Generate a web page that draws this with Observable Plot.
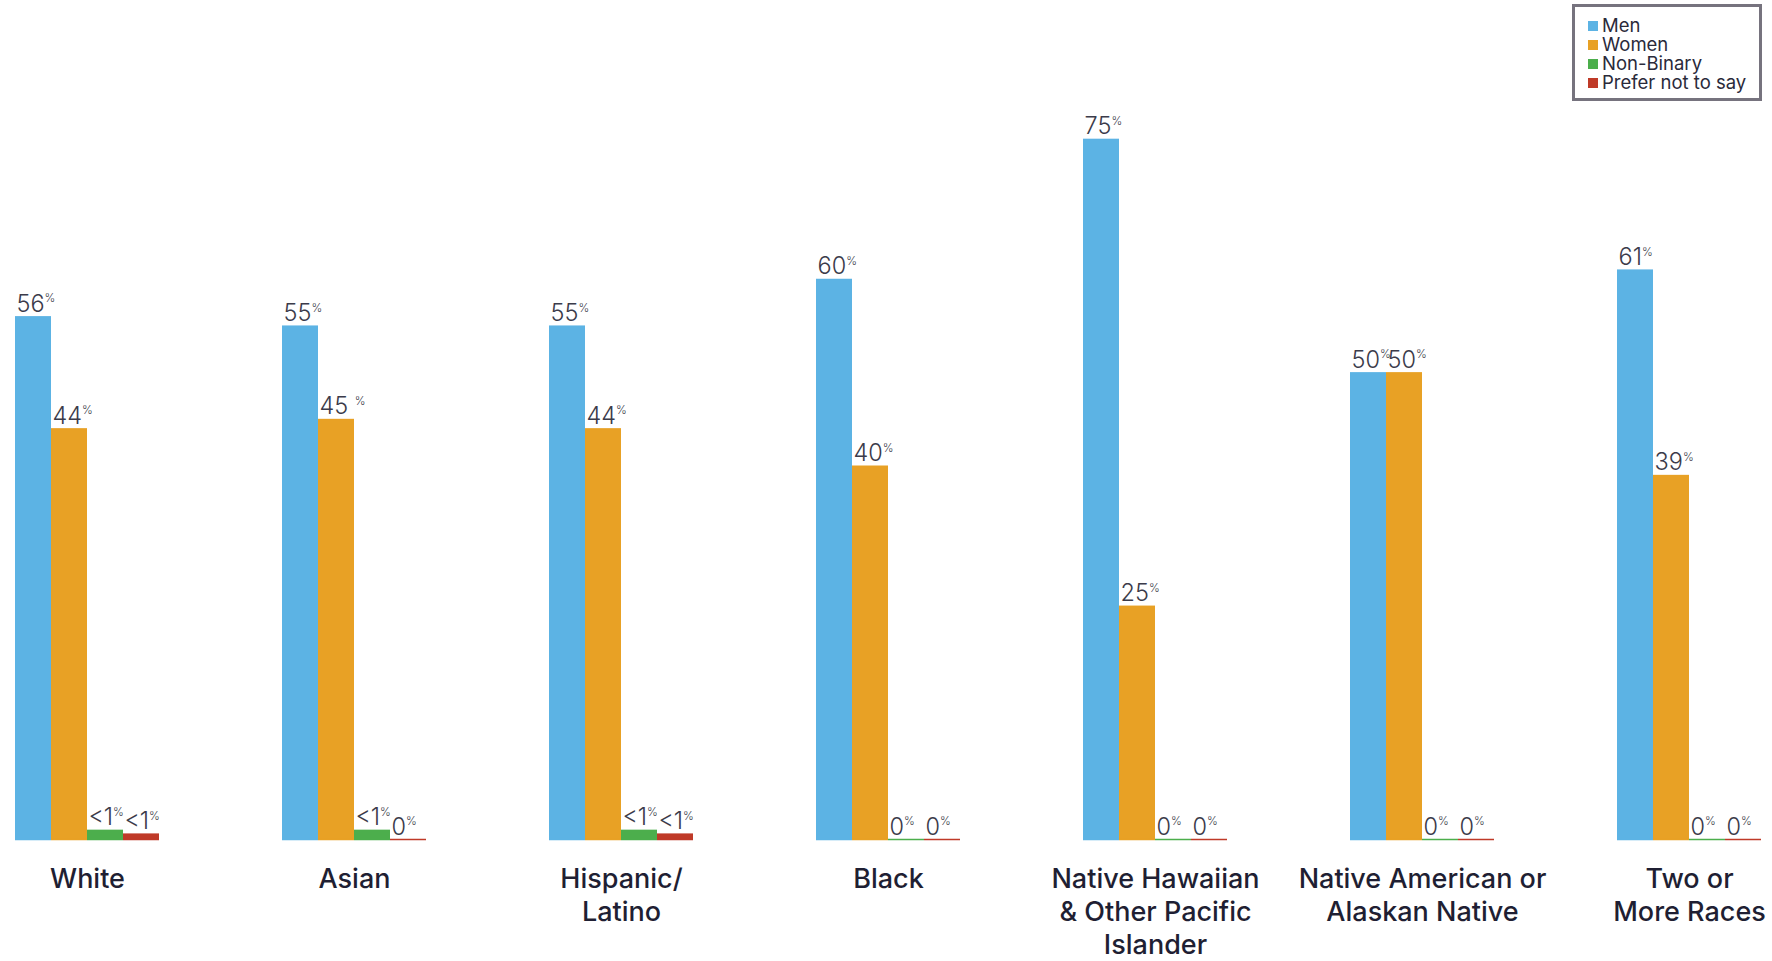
<!DOCTYPE html>
<html><head><meta charset="utf-8">
<script src="https://cdn.jsdelivr.net/npm/d3@7"></script>
<script src="https://cdn.jsdelivr.net/npm/@observablehq/plot@0.6"></script>
<style>
body{margin:0;background:#fff;}
#wrap{position:relative;width:1772px;height:961px;font-family:Inter, sans-serif;}
#legend{position:absolute;left:1572px;top:4px;width:190px;height:97px;box-sizing:border-box;border:3px solid #76737e;padding:9px 0 0 13px;background:#fff;}
.item{display:flex;align-items:center;font-size:18.5px;line-height:19px;color:#2a2a3a;}
.sw{width:10px;height:10px;margin-right:4px;flex:none;}
</style></head><body>
<div id="wrap"><div id="legend"></div></div>
<script>
const races = ["White", "Asian", "Hispanic/\nLatino", "Black", "Native Hawaiian\n& Other Pacific\nIslander", "Native American or\nAlaskan Native", "Two or\nMore Races"];
const genders = ["Men", "Women", "Non-Binary", "Prefer not to say"];
const men = [56, 55, 55, 60, 75, 50, 61];
const women = [44, 45, 44, 40, 25, 50, 39];
const nonBinary = [1, 1, 1, 0, 0, 0, 0];
const preferNot = [0.6, 0, 0.6, 0, 0, 0, 0];
const menLabels = ["56%", "55%", "55%", "60%", "75%", "50%", "61%"];
const womenLabels = ["44%", "45 %", "44%", "40%", "25%", "50%", "39%"];
const nonBinaryLabels = ["<1%", "<1%", "<1%", "0%", "0%", "0%", "0%"];
const preferNotLabels = ["<1%", "0%", "<1%", "0%", "0%", "0%", "0%"];
const colors = ["#5cb3e4", "#e8a125", "#4cae4c", "#bf3a28"];

const series = [men, women, nonBinary, preferNot];
const labelSets = [menLabels, womenLabels, nonBinaryLabels, preferNotLabels];
const data = races.flatMap((r, i) => genders.map((g, j) => ({race: r, gender: g, value: series[j][i], label: labelSets[j][i]})));

const plot = Plot.plot({
  width: 1772, height: 961,
  marginTop: 92, marginBottom: 122, marginLeft: 12, marginRight: 9,
  style: {fontFamily: "Inter, sans-serif", background: "#fff"},
  fx: {domain: races, paddingInner: 0.462, paddingOuter: 0, label: null},
  x: {domain: genders, padding: 0, axis: null},
  y: {domain: [0, 80], axis: null},
  color: {domain: genders, range: colors},
  marks: [
    Plot.barY(data, {fx: "race", x: "gender", y: "value", fill: "gender"}),
    Plot.tickY(data, {fx: "race", x: "gender", y: 0, stroke: "gender", strokeWidth: 1.5}),
    Plot.text(data, {fx: "race", x: "gender", y: "value", text: "label", textAnchor: "start", lineAnchor: "bottom", dx: -17, dy: -5, fontSize: 23.5, fontWeight: 300, fill: "#3b3b4a"}),
    Plot.axisFx({anchor: "bottom", tickSize: 0, tickPadding: 25, fontSize: 27, fontWeight: 500, fill: "#1f1f33", lineHeight: 1.22, label: null})
  ]
});

d3.select(plot).selectAll('g[aria-label="text"] text').each(function() {
  const s = this.textContent;
  if (s.endsWith("%")) {
    const t = d3.select(this);
    t.text(s.slice(0, -1));
    t.append("tspan").attr("font-size", 11.5).attr("dy", "-0.8em").text("%");
  }
});

document.getElementById("wrap").prepend(plot);

const legend = d3.select("#legend");
genders.forEach((g, i) => {
  const it = legend.append("div").attr("class", "item");
  it.append("div").attr("class", "sw").style("background", colors[i]);
  it.append("span").text(g);
});
</script>
</body></html>
